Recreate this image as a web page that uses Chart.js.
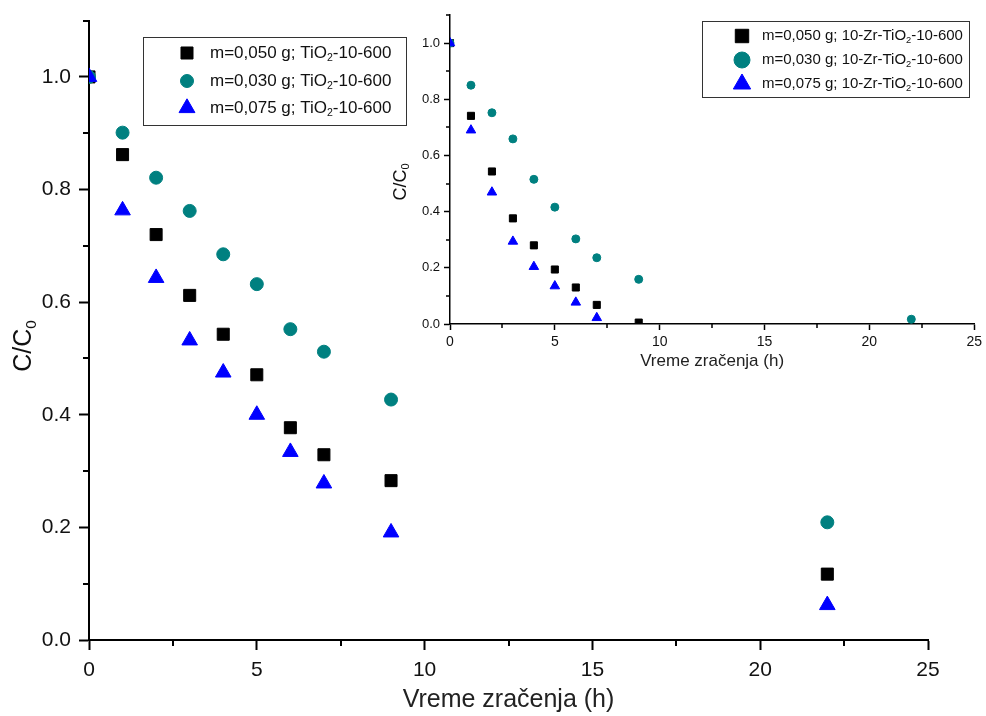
<!DOCTYPE html>
<html>
<head>
<meta charset="utf-8">
<script src="https://cdn.jsdelivr.net/npm/chart.js@4.4.0/dist/chart.umd.min.js"></script>
<style>
  html, body { margin: 0; padding: 0; background: #fff; }
  #wrap { position: relative; width: 986px; height: 716px; }
  #main { position: absolute; left: 0; top: 0; }
  #inset { position: absolute; left: 370px; top: 0; }
</style>
</head>
<body>
<div id="wrap">
  <canvas id="main" width="986" height="716"></canvas>
  <canvas id="inset" width="616" height="380"></canvas>
</div>
<script>
// irradiation time (h)
const hours = [0, 1, 2, 3, 4, 5, 6, 7, 9, 22];

// main chart: TiO2-10-600
const tio2_050 = [1.0, 0.862, 0.720, 0.612, 0.543, 0.471, 0.377, 0.329, 0.283, 0.117];
const tio2_030 = [1.0, 0.901, 0.821, 0.762, 0.685, 0.632, 0.552, 0.512, 0.427, 0.209];
const tio2_075 = [1.0, 0.763, 0.643, 0.532, 0.475, 0.400, 0.334, 0.278, 0.191, 0.062];

// inset: 10-Zr-TiO2-10-600 (null = not measured)
const zr_050 = [1.0, 0.741, 0.543, 0.376, 0.280, 0.194, 0.130, 0.068, 0.005, null];
const zr_030 = [1.0, 0.850, 0.752, 0.659, 0.515, 0.416, 0.303, 0.236, 0.159, 0.017];
const zr_075 = [1.0, 0.690, 0.469, 0.294, 0.204, 0.135, 0.077, 0.022, null, null];

const mainLabels = [
  'm=0,050 g; TiO₂-10-600',
  'm=0,030 g; TiO₂-10-600',
  'm=0,075 g; TiO₂-10-600',
];
const insetLabels = [
  'm=0,050 g; 10-Zr-TiO₂-10-600',
  'm=0,030 g; 10-Zr-TiO₂-10-600',
  'm=0,075 g; 10-Zr-TiO₂-10-600',
];

const xMinor = [2.5, 7.5, 12.5, 17.5, 22.5];
const yMinor = [0.1, 0.3, 0.5, 0.7, 0.9, 1.1];

const FONT = '"Liberation Sans", Arial, sans-serif';
const BLACK = '#000000';
const TEAL = '#008080';
const BLUE = '#0000ff';

const toPoints = (vals) =>
  hours.map((h, i) => ({ x: h, y: vals[i] })).filter((p) => p.y !== null);

// text with subscript digits (₀, ₂) drawn smaller and lowered
const subMap = { '₀': '0', '₂': '2' };
function richText(ctx, text, x, y, size, draw) {
  let cx = x;
  let buf = '';
  const flush = () => {
    if (!buf) return;
    ctx.font = size + 'px ' + FONT;
    if (draw) ctx.fillText(buf, cx, y);
    cx += ctx.measureText(buf).width;
    buf = '';
  };
  for (const ch of text) {
    if (subMap[ch]) {
      flush();
      ctx.font = size * 0.62 + 'px ' + FONT;
      if (draw) ctx.fillText(subMap[ch], cx, y + size * 0.3);
      cx += ctx.measureText(subMap[ch]).width;
    } else {
      buf += ch;
    }
  }
  flush();
  return cx - x;
}

// minor ticks, boxed legend and y title
const decor = {
  id: 'decor',
  afterDraw(chart, args, o) {
    const ctx = chart.ctx;
    const area = chart.chartArea;
    const sx = chart.scales.x;
    const sy = chart.scales.y;
    ctx.save();

    ctx.strokeStyle = '#000';
    ctx.lineWidth = o.tickWidth;
    ctx.beginPath();
    xMinor.forEach((v) => {
      const px = Math.round(sx.getPixelForValue(v));
      ctx.moveTo(px, area.bottom);
      ctx.lineTo(px, area.bottom + o.minorLen);
    });
    yMinor.forEach((v) => {
      const py = Math.round(sy.getPixelForValue(v));
      ctx.moveTo(area.left, py);
      ctx.lineTo(area.left - o.minorLen, py);
    });
    ctx.stroke();

    // legend
    const b = o.box;
    ctx.strokeStyle = '#333';
    ctx.lineWidth = 1;
    ctx.strokeRect(b.x + 0.5, b.y + 0.5, b.w, b.h);
    chart.data.datasets.forEach((ds, i) => {
      const ry = b.rows[i];
      ctx.fillStyle = ds.pointBackgroundColor;
      ctx.strokeStyle = ds.pointBorderColor;
      Chart.helpers.drawPoint(ctx, {
        pointStyle: ds.pointStyle,
        radius: o.legendRadius[i],
        rotation: 0,
        borderWidth: 1,
      }, b.markerX, ry);
      ctx.fillStyle = '#111';
      ctx.textBaseline = 'middle';
      ctx.textAlign = 'left';
      richText(ctx, ds.label, b.textX, ry, o.legendSize, true);
    });

    // y title
    ctx.translate(o.yTitle.x, o.yTitle.y);
    ctx.rotate(-Math.PI / 2);
    ctx.fillStyle = '#111';
    ctx.textBaseline = 'middle';
    ctx.textAlign = 'left';
    const w = richText(ctx, 'C/C₀', 0, 0, o.yTitle.size, false);
    richText(ctx, 'C/C₀', -w / 2, 0, o.yTitle.size, true);
    ctx.restore();
  },
};

function makeChart(canvasId, series, labels, s) {
  const colors = [BLACK, TEAL, BLUE];
  const styles = ['rect', 'circle', 'triangle'];
  const orders = [3, 2, 1];
  return new Chart(document.getElementById(canvasId), {
    type: 'scatter',
    data: {
      datasets: series.map((vals, i) => ({
        label: labels[i],
        data: toPoints(vals),
        pointStyle: styles[i],
        pointRadius: s.radius[i],
        pointBackgroundColor: colors[i],
        pointBorderColor: colors[i],
        pointBorderWidth: 1,
        showLine: false,
        order: orders[i],
      })),
    },
    options: {
      responsive: false,
      animation: false,
      events: [],
      layout: { padding: s.padding },
      plugins: {
        legend: { display: false },
        tooltip: { enabled: false },
        decor: s.decor,
      },
      scales: {
        x: {
          type: 'linear',
          min: 0,
          max: 25,
          afterFit: (scale) => { scale.height = s.xHeight; },
          border: { display: true, color: '#000', width: s.axisWidth },
          grid: {
            drawOnChartArea: false,
            drawTicks: true,
            tickLength: s.tickLen,
            tickWidth: s.axisWidth,
            tickColor: '#000',
          },
          ticks: {
            stepSize: 5,
            color: '#111',
            padding: s.tickPad,
            font: { family: FONT, size: s.tickSize },
          },
          title: {
            display: true,
            text: 'Vreme zračenja (h)',
            color: '#222',
            padding: { top: 0, bottom: s.titlePad },
            font: { family: FONT, size: s.titleSize },
          },
        },
        y: {
          type: 'linear',
          min: 0,
          max: 1.1,
          afterFit: (scale) => { scale.width = s.yWidth; },
          border: { display: true, color: '#000', width: s.axisWidth },
          grid: {
            drawOnChartArea: false,
            drawTicks: true,
            tickLength: s.tickLen,
            tickWidth: s.axisWidth,
            tickColor: '#000',
          },
          ticks: {
            stepSize: 0.2,
            includeBounds: false,
            color: '#111',
            padding: s.yTickPad,
            font: { family: FONT, size: s.yTickSize },
            callback: (v) => v.toFixed(1),
          },
        },
      },
    },
    plugins: [decor],
  });
}

makeChart('main', [tio2_050, tio2_030, tio2_075], mainLabels, {
  radius: [8.5, 6.5, 9],
  padding: { top: 17, right: 58, left: 0, bottom: 0 },
  xHeight: 76,
  yWidth: 89,
  axisWidth: 2,
  tickLen: 10,
  tickPad: 8,
  yTickPad: 8,
  tickSize: 21,
  yTickSize: 21,
  titleSize: 25,
  titlePad: 1,
  decor: {
    tickWidth: 2,
    minorLen: 6,
    legendRadius: [8.5, 6.5, 9.2],
    legendSize: 17,
    box: { x: 143, y: 37, w: 263, h: 88, rows: [53, 81, 108], markerX: 187, textX: 210 },
    yTitle: { x: 24, y: 346, size: 25 },
  },
});

makeChart('inset', [zr_050, zr_030, zr_075], insetLabels, {
  radius: [5, 4, 5.5],
  padding: { top: 15, right: 8, left: 0, bottom: 0 },
  xHeight: 56,
  yWidth: 80,
  axisWidth: 1.5,
  tickLen: 6,
  tickPad: 4,
  yTickPad: 4,
  tickSize: 14,
  yTickSize: 13,
  titleSize: 17,
  titlePad: 8,
  decor: {
    tickWidth: 1.5,
    minorLen: 4,
    legendRadius: [9.5, 8, 10],
    legendSize: 15,
    box: { x: 332, y: 21, w: 267, h: 76, rows: [36, 60, 84], markerX: 372, textX: 392 },
    yTitle: { x: 31, y: 182, size: 18 },
  },
});
</script>
</body>
</html>
